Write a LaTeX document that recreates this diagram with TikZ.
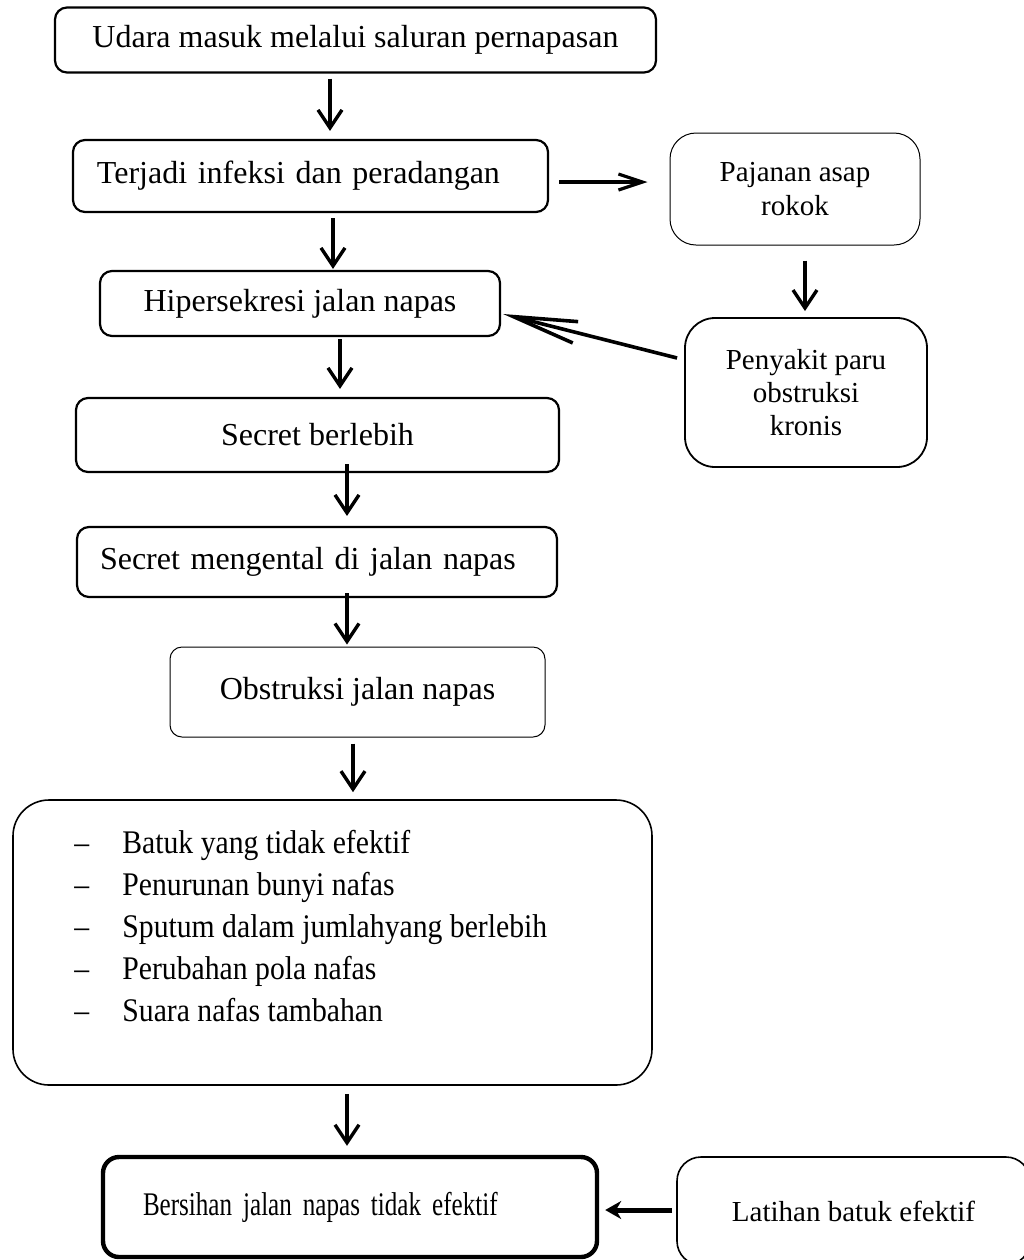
\documentclass[tikz,border=0pt]{standalone}
\usepackage{fontspec}
\setmainfont{Liberation Serif}
\newfontfamily\narrowserif[FakeStretch=0.76]{Liberation Serif}
\newfontfamily\listserif[FakeStretch=0.9]{Liberation Serif}
\usetikzlibrary{arrows.meta}

\tikzset{
  box/.style={draw, rounded corners=6pt, line width=1.1pt, inner sep=0pt,
    font=\fontsize{16}{19}\selectfont},
  thinbox/.style={box, line width=0.5pt},
  sidebox/.style={draw, rounded corners=13pt, line width=0.9pt, inner sep=0pt,
    align=center, font=\fontsize{14.5}{16.7}\selectfont},
  flow/.style={-{Straight Barb[length=9pt,width=12pt]}, line width=1.7pt},
}

\begin{document}
\begin{tikzpicture}[x=0.5pt, y=-0.5pt]
  \useasboundingbox (0,0) rectangle (1024,1260);

  % main column
  \node[box, minimum width=300.5pt, minimum height=32.5pt] (udara) at (355.5,40)
    {Udara masuk melalui saluran pernapasan};
  \node[box, minimum height=36pt, text width=213.5pt, inner xsep=12pt, align=left]
    (terjadi) at (310.5,176) {Terjadi infeksi dan peradangan};
  \node[box, minimum width=200pt, minimum height=32.5pt] (hiper) at (300,303.5)
    {Hipersekresi jalan napas};
  \node[box, minimum width=241.5pt, minimum height=37pt] (secret) at (317.5,435)
    {Secret berlebih};
  \node[box, minimum height=35pt, text width=217pt, inner xsep=11.5pt, align=left]
    (kental) at (317,562) {Secret mengental di jalan napas};
  \node[thinbox, minimum width=187.5pt, minimum height=45pt] (obstruksi) at (357.5,692)
    {Obstruksi jalan napas};

  % tanda dan gejala
  \node[draw, rounded corners=18pt, line width=0.8pt, minimum width=319.5pt,
    minimum height=142.5pt] (gejala) at (332.5,942.5) {};
  \node[anchor=north west, align=left, inner sep=0pt,
    font=\listserif\fontsize{16.5}{21}\selectfont] (gejalatext) at (74,830)
    {\makebox[24pt][l]{\textendash}Batuk yang tidak efektif\\
     \makebox[24pt][l]{\textendash}Penurunan bunyi nafas\\
     \makebox[24pt][l]{\textendash}Sputum dalam jumlahyang berlebih\\
     \makebox[24pt][l]{\textendash}Perubahan pola nafas\\
     \makebox[24pt][l]{\textendash}Suara nafas tambahan};

  \node[box, line width=2.2pt, rounded corners=8pt, minimum height=50pt, text width=207pt,
    inner xsep=20pt, align=left, font=\narrowserif\fontsize{16.5}{19}\selectfont]
    (bersihan) at (350,1207) {Bersihan jalan napas tidak efektif};

  % right column
  \node[sidebox, line width=0.5pt, minimum width=125pt, minimum height=56pt] (pajanan)
    at (795,189) {Pajanan asap\\rokok};
  \node[sidebox, rounded corners=15pt, minimum width=121pt, minimum height=74.5pt] (penyakit)
    at (806,392.5) {Penyakit paru\\obstruksi\\kronis};
  \node[sidebox, rounded corners=12pt, line width=0.8pt, minimum width=176.5pt,
    minimum height=54pt] (latihan) at (853.5,1211) {Latihan batuk efektif};

  % arrows
  \draw[flow] ([xshift=-12.75pt,yshift=-2.5pt]udara.south) -- ([xshift=9.75pt,yshift=4pt]terjadi.north);
  \draw[flow] ([xshift=11.25pt,yshift=-2.5pt]terjadi.south) -- ([xshift=16.5pt,yshift=0.5pt]hiper.north);
  \draw[flow] ([xshift=20pt,yshift=-1pt]hiper.south) -- ([xshift=11.25pt,yshift=4pt]secret.north);
  \draw[flow] ([xshift=14.75pt,yshift=4.5pt]secret.south) -- ([xshift=15pt,yshift=5pt]kental.north);
  \draw[flow] ([xshift=15pt,yshift=2.5pt]kental.south) -- ([xshift=-5.25pt,yshift=1pt]obstruksi.north);
  \draw[flow] ([xshift=-2.25pt,yshift=-3pt]obstruksi.south) -- ([xshift=10.25pt,yshift=3.5pt]gejala.north);
  \draw[flow] ([xshift=7.25pt,yshift=-4pt]gejala.south) -- ([xshift=-1.5pt,yshift=4.5pt]bersihan.north);
  \draw[flow] ([xshift=5pt,yshift=-7.5pt]pajanan.south) -- ([xshift=-0.5pt,yshift=3pt]penyakit.north);

  \draw[-{Straight Barb[length=12pt,width=8pt]}, line width=1.6pt]
    ([xshift=5pt,yshift=-3pt]terjadi.east) -- ([xshift=-11pt,yshift=3.5pt]pajanan.west);
  \draw[-{Straight Barb[length=32pt,width=11pt]}, line width=1.8pt]
    ([xshift=-3.5pt,yshift=17.25pt]penyakit.west) -- ([xshift=1pt,yshift=-5.25pt]hiper.east);
  \draw[-{Stealth[length=8pt,width=9pt]}, line width=2.5pt]
    ([xshift=-2pt,yshift=0.5pt]latihan.west) -- ([xshift=3pt,yshift=-1.5pt]bersihan.east);
\end{tikzpicture}
\end{document}
